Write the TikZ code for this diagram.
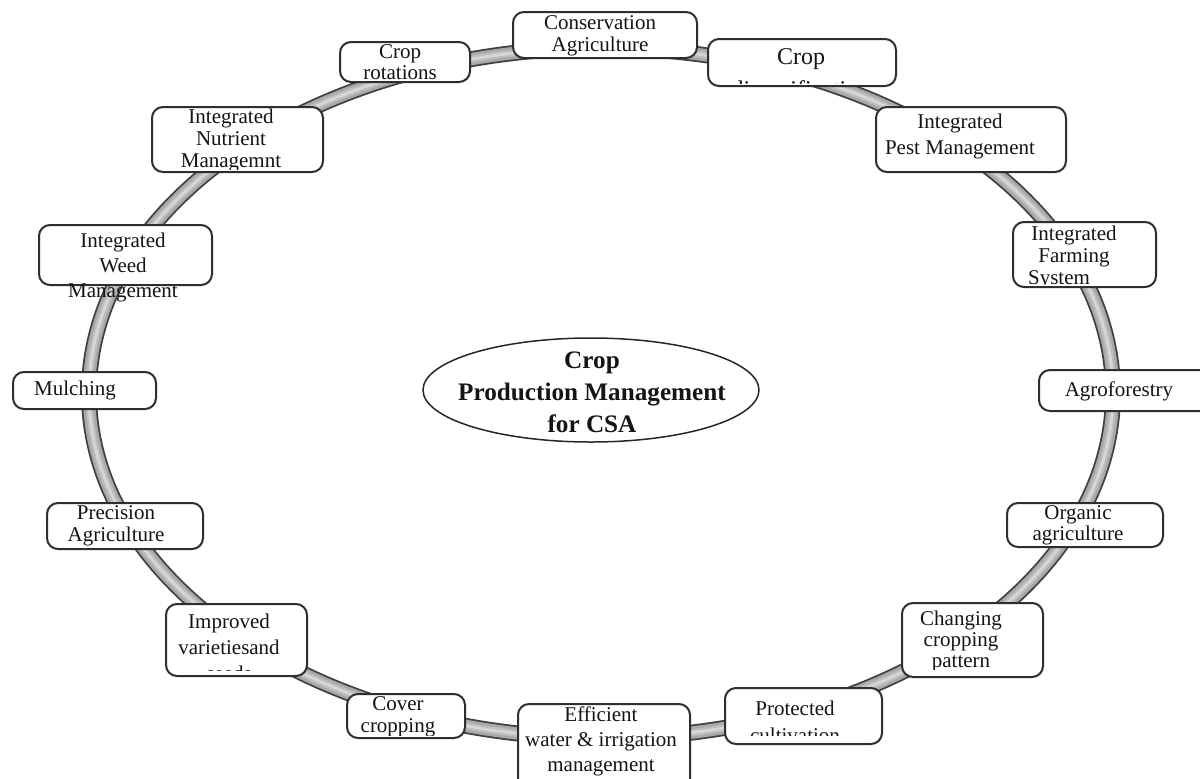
\documentclass[tikz,border=0pt]{standalone}
\usepackage{fontspec}
\setmainfont{Liberation Serif}
\usetikzlibrary{shapes.geometric}
\newcommand\mlines[2]{\fontsize{10.5}{#1}\selectfont\begin{tabular}[t]{@{}c@{}}#2\end{tabular}}
\begin{document}
\begin{tikzpicture}[x=0.5pt,y=-0.5pt,
  bx/.style={draw=black!82, line width=1pt, fill=white, rounded corners=5.5pt, inner sep=0pt},
  txt/.style={inner sep=0pt, anchor=base, text=black!92},
  ringA/.style={draw=black!75, line width=8pt},
  ringB/.style={draw=black!34, line width=6.2pt},
  ringC/.style={draw=black!26, line width=3.6pt},
  ringD/.style={draw=black!16, line width=1.4pt}]
\useasboundingbox (0,0) rectangle (1200,778);
% ring
\draw[ringA] (601,393) ellipse [x radius=256pt, y radius=172.5pt];
\draw[ringB] (601,393) ellipse [x radius=256pt, y radius=172.5pt];
\draw[ringC] (601,393) ellipse [x radius=256pt, y radius=172.5pt];
\draw[ringD] (601,393) ellipse [x radius=256pt, y radius=172.5pt];
% boxes
\node[bx, minimum width=92pt, minimum height=23pt] (cons) at (605,35) {};
\node[bx, minimum width=65pt, minimum height=20pt] (rot) at (405,62) {};
\node[bx, minimum width=94pt, minimum height=23.5pt] (div) at (802,62.5) {};
\node[bx, minimum width=95pt, minimum height=32.5pt] (ipm) at (971,139.5) {};
\node[bx, minimum width=71.5pt, minimum height=32.5pt] (ifs) at (1084.5,254.5) {};
\node[bx, minimum width=88pt, minimum height=20.5pt] (agro) at (1127,390.5) {};
\node[bx, minimum width=78pt, minimum height=22pt] (org) at (1085,525) {};
\node[bx, minimum width=70.5pt, minimum height=37pt] (chg) at (972.5,640) {};
\node[bx, minimum width=78.5pt, minimum height=28pt] (prot) at (803.5,716) {};
\node[bx, minimum width=86pt, minimum height=43pt] (eff) at (604,747) {};
\node[bx, minimum width=59pt, minimum height=22pt] (cov) at (406,716) {};
\node[bx, minimum width=70.5pt, minimum height=36pt] (impr) at (236.5,640) {};
\node[bx, minimum width=78pt, minimum height=23pt] (prec) at (125,526) {};
\node[bx, minimum width=71.5pt, minimum height=18.5pt] (mul) at (84.5,390.5) {};
\node[bx, minimum width=86.5pt, minimum height=30pt] (weed) at (125.5,255) {};
\node[bx, minimum width=85.5pt, minimum height=32.5pt] (nut) at (237.5,139.5) {};
% centre
\node[draw=black!85, line width=0.75pt, ellipse, fill=white, minimum width=168pt, minimum height=52pt, inner sep=0pt] (hub) at (591,390) {};
\node[txt] (hubt) at (592,368) {\fontsize{12.6}{16}\selectfont\bfseries\begin{tabular}[t]{@{}c@{}}Crop\\ Production Management\\ for CSA\end{tabular}};
% texts
\node[txt] (tcons) at (600,29) {\mlines{11}{Conservation\\ Agriculture}};
\node[txt] (trot) at (400,58) {\mlines{10.5}{Crop\\ rotations}};
\begin{scope}
\clip (708,39) rectangle (896,83);
\node[txt] (tdiv) at (801,64) {\fontsize{12}{16.5}\selectfont\begin{tabular}[t]{@{}c@{}}Crop\\ diversification\end{tabular}};
\end{scope}
\node[txt] (tipm) at (960,128) {\mlines{13}{Integrated\\ Pest Management}};
\begin{scope}
\clip (1013,222) rectangle (1156,284);
\node[txt] (tifs) at (1074,240) {\mlines{11}{Integrated\\ Farming\\ System\hspace*{15pt}}};
\end{scope}
\node[txt] (tagro) at (1119,396) {\mlines{11}{Agroforestry}};
\begin{scope}
\clip (1007,503) rectangle (1163,544);
\node[txt] (torg) at (1078,519) {\mlines{10.5}{Organic\\ agriculture}};
\end{scope}
\begin{scope}
\clip (902,603) rectangle (1043,669);
\node[txt] (tchg) at (961,625) {\mlines{10.5}{Changing\\ cropping\\ pattern}};
\end{scope}
\begin{scope}
\clip (725,688) rectangle (882,735);
\node[txt] (tprot) at (795,715) {\mlines{13.5}{Protected\\ cultivation}};
\end{scope}
\node[txt] (teff) at (601,721) {\mlines{12.5}{Efficient\\ water \& irrigation\\ management}};
\begin{scope}
\clip (347,694) rectangle (465,735);
\node[txt] (tcov) at (398,710) {\mlines{11}{Cover\\ cropping}};
\end{scope}
\begin{scope}
\clip (166,604) rectangle (307,670);
\node[txt] (timpr) at (229,628) {\mlines{13}{Improved\\ varietiesand\\ seeds}};
\end{scope}
\begin{scope}
\clip (47,503) rectangle (203,545);
\node[txt] (tprec) at (116,519) {\mlines{11}{Precision\\ Agriculture}};
\end{scope}
\node[txt] (tmul) at (75,395) {\mlines{11}{Mulching}};
\node[txt] (tweed) at (123,247) {\mlines{12.5}{Integrated\\ Weed\\ Management}};
\begin{scope}
\clip (152,107) rectangle (323,169);
\node[txt] (tnut) at (231,123) {\mlines{11}{Integrated\\ Nutrient\\ Managemnt}};
\end{scope}
\end{tikzpicture}
\end{document}
